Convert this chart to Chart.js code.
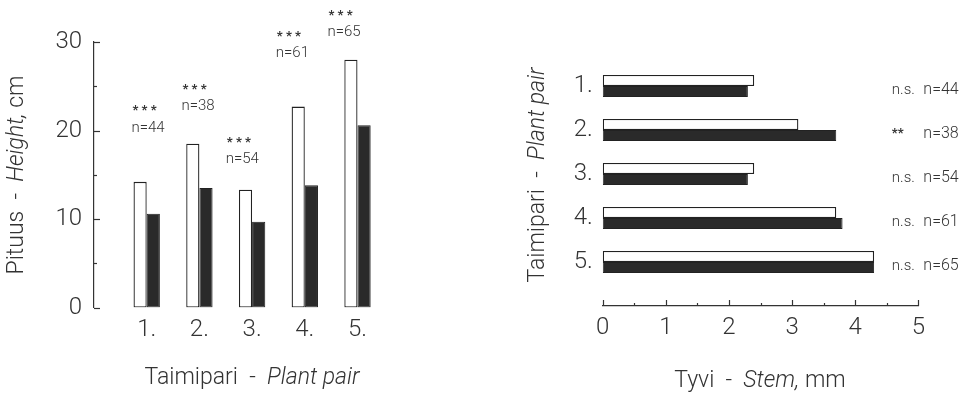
<!DOCTYPE html>
<html>
<head>
<meta charset="utf-8">
<script src="https://cdn.jsdelivr.net/npm/chart.js@4/dist/chart.umd.min.js"></script>
<style>
body { margin: 0; background: #fff; }
#wrap { position: relative; width: 972px; height: 393px; }
canvas { position: absolute; top: 0; }
#left { left: 0; }
#right { left: 486px; }
</style>
</head>
<body>
<div id="wrap">
  <canvas id="left" width="486" height="393"></canvas>
  <canvas id="right" width="486" height="393"></canvas>
</div>
<script>
var pairLabels = ['1.', '2.', '3.', '4.', '5.'];
var heightOpen = [14.2, 18.5, 13.3, 22.7, 28.0];
var heightFilled = [10.6, 13.5, 9.7, 13.8, 20.6];
var stemOpen = [2.4, 3.1, 2.4, 3.7, 4.3];
var stemFilled = [2.3, 3.7, 2.3, 3.8, 4.3];
var counts = [44, 38, 54, 61, 65];
var heightSig = ['***', '***', '***', '***', '***'];
var stemSig = ['n.s.', '**', 'n.s.', 'n.s.', 'n.s.'];
var heightTicks = [0, 10, 20, 30];
var stemTicks = [0, 1, 2, 3, 4, 5];
// where the notes sit, in axis units
var noteX = [0.71, 1.66, 2.5, 3.45, 4.43];
var noteY = [20.3, 22.7, 16.7, 28.7, 31.1];
var sigX = 4.58, nX = 5.08;

var FONT = 'Roboto';
var INK = '#333';

function pts(vals, horizontal) {
  return vals.map(function (v, i) {
    return horizontal ? { x: v, y: i + 1 } : { x: i + 1, y: v };
  });
}

function mixed(ctx, parts, x, y, size, rot) {
  ctx.save();
  ctx.translate(x, y);
  if (rot) ctx.rotate(-Math.PI / 2);
  var font = function (it) { return (it ? 'italic ' : '') + '300 ' + size + 'px ' + FONT; };
  var total = 0;
  parts.forEach(function (p) { ctx.font = font(p[1]); total += ctx.measureText(p[0]).width; });
  var cx = -total / 2;
  ctx.textBaseline = 'middle';
  ctx.textAlign = 'left';
  ctx.fillStyle = INK;
  parts.forEach(function (p) {
    ctx.font = font(p[1]);
    ctx.fillText(p[0], cx, 0);
    cx += ctx.measureText(p[0]).width;
  });
  ctx.restore();
}

var openStyle = { backgroundColor: '#fff', borderColor: '#222', borderWidth: 1.3, borderSkipped: false };
var filledStyle = { backgroundColor: '#2a2a2a', borderColor: '#222', borderWidth: 1, borderSkipped: false };

var tickFont = { family: FONT, weight: '300', size: 24 };

// left: height
var leftExtras = {
  id: 'leftExtras',
  afterDraw: function (chart) {
    var ctx = chart.ctx, x = chart.scales.x, y = chart.scales.y;
    var x0 = chart.chartArea.left;
    ctx.save();
    ctx.strokeStyle = INK;
    ctx.lineWidth = 1.2;
    for (var v = 0; v <= 30; v += 5) {
      var py = Math.round(y.getPixelForValue(v)) + 0.5;
      ctx.beginPath();
      ctx.moveTo(x0, py);
      ctx.lineTo(x0 + (v % 10 ? 3 : 6), py);
      ctx.stroke();
    }
    ctx.fillStyle = INK;
    ctx.textAlign = 'left';
    ctx.textBaseline = 'middle';
    for (var i = 0; i < counts.length; i++) {
      var px = x.getPixelForValue(noteX[i]);
      var qy = y.getPixelForValue(noteY[i]);
      ctx.font = '300 15px ' + FONT;
      ctx.fillText('n=' + counts[i], px, qy);
      ctx.font = '700 13px ' + FONT;
      ctx.fillText(heightSig[i].split('').join(' '), px + 1, qy - 17);
    }
    ctx.restore();
    mixed(ctx, [['Pituus  -  ', 0], ['Height,', 1], [' cm', 0]], 17, 175, 23, true);
    mixed(ctx, [['Taimipari  -  ', 0], ['Plant pair', 1]], 252, 378, 23, false);
  }
};

new Chart(document.getElementById('left'), {
  type: 'bar',
  data: {
    datasets: [
      Object.assign({ data: pts(heightOpen) }, openStyle),
      Object.assign({ data: pts(heightFilled) }, filledStyle)
    ]
  },
  options: {
    responsive: false,
    animation: false,
    events: [],
    categoryPercentage: 0.5,
    barPercentage: 1,
    layout: { padding: { left: 0, top: 42, right: 75.8, bottom: 0 } },
    plugins: { legend: { display: false }, tooltip: { enabled: false } },
    scales: {
      x: {
        type: 'linear', min: 0, max: 6, offset: false,
        grid: { display: false, drawTicks: false, offset: false },
        border: { display: false },
        afterBuildTicks: function (s) { s.ticks = pairLabels.map(function (l, i) { return { value: i + 1 }; }); },
        afterFit: function (s) { s.height = 85.5; },
        ticks: { font: tickFont, color: INK, padding: 8, maxRotation: 0,
          callback: function (v) { return pairLabels[v - 1] || ''; } }
      },
      y: {
        type: 'linear', min: 0, max: 30,
        grid: { display: false, drawTicks: false },
        border: { display: true, color: INK, width: 1.2 },
        afterBuildTicks: function (s) { s.ticks = heightTicks.map(function (v) { return { value: v }; }); },
        afterFit: function (s) { s.width = 94; },
        ticks: { font: tickFont, color: INK, padding: 12 }
      }
    }
  },
  plugins: [leftExtras]
});

// right: stem
var rightExtras = {
  id: 'rightExtras',
  afterDraw: function (chart) {
    var ctx = chart.ctx, x = chart.scales.x, y = chart.scales.y;
    var y0 = chart.chartArea.bottom;
    ctx.save();
    ctx.strokeStyle = INK;
    ctx.lineWidth = 1.2;
    for (var v = 0; v <= 5; v += 0.5) {
      var px = Math.round(x.getPixelForValue(v)) + 0.5;
      ctx.beginPath();
      ctx.moveTo(px, y0);
      ctx.lineTo(px, y0 - (v % 1 ? 3 : 6));
      ctx.stroke();
    }
    ctx.fillStyle = INK;
    ctx.textAlign = 'left';
    ctx.textBaseline = 'middle';
    for (var i = 0; i < counts.length; i++) {
      var py = y.getPixelForValue(i + 1) + 4;
      ctx.font = stemSig[i] === '**' ? '700 13px ' + FONT : '300 15px ' + FONT;
      ctx.fillText(stemSig[i], x.getPixelForValue(sigX), py);
      ctx.font = '300 16px ' + FONT;
      ctx.fillText('n=' + counts[i], x.getPixelForValue(nX), py);
    }
    ctx.restore();
    mixed(ctx, [['Taimipari  -  ', 0], ['Plant pair', 1]], 52, 175, 23, true);
    mixed(ctx, [['Tyvi  -  ', 0], ['Stem,', 1], [' mm', 0]], 274, 381, 23, false);
  }
};

new Chart(document.getElementById('right'), {
  type: 'bar',
  data: {
    datasets: [
      Object.assign({ data: pts(stemOpen, true) }, openStyle),
      Object.assign({ data: pts(stemFilled, true) }, filledStyle)
    ]
  },
  options: {
    indexAxis: 'y',
    responsive: false,
    animation: false,
    events: [],
    categoryPercentage: 0.5,
    barPercentage: 1,
    layout: { padding: { left: 0, top: 42, right: 53.7, bottom: 0 } },
    plugins: { legend: { display: false }, tooltip: { enabled: false } },
    scales: {
      x: {
        type: 'linear', min: 0, max: 5,
        grid: { display: false, drawTicks: false },
        border: { display: true, color: INK, width: 1.2 },
        afterBuildTicks: function (s) { s.ticks = stemTicks.map(function (v) { return { value: v }; }); },
        afterFit: function (s) { s.height = 87; },
        ticks: { font: tickFont, color: INK, padding: 8, maxRotation: 0 }
      },
      y: {
        type: 'linear', min: 0, max: 6, reverse: true, offset: false,
        grid: { display: false, drawTicks: false, offset: false },
        border: { display: false },
        afterBuildTicks: function (s) { s.ticks = pairLabels.map(function (l, i) { return { value: i + 1 }; }); },
        afterFit: function (s) { s.width = 116.7; },
        ticks: { font: tickFont, color: INK, padding: 10,
          callback: function (v) { return pairLabels[v - 1] || ''; } }
      }
    }
  },
  plugins: [rightExtras]
});
</script>
</body>
</html>
